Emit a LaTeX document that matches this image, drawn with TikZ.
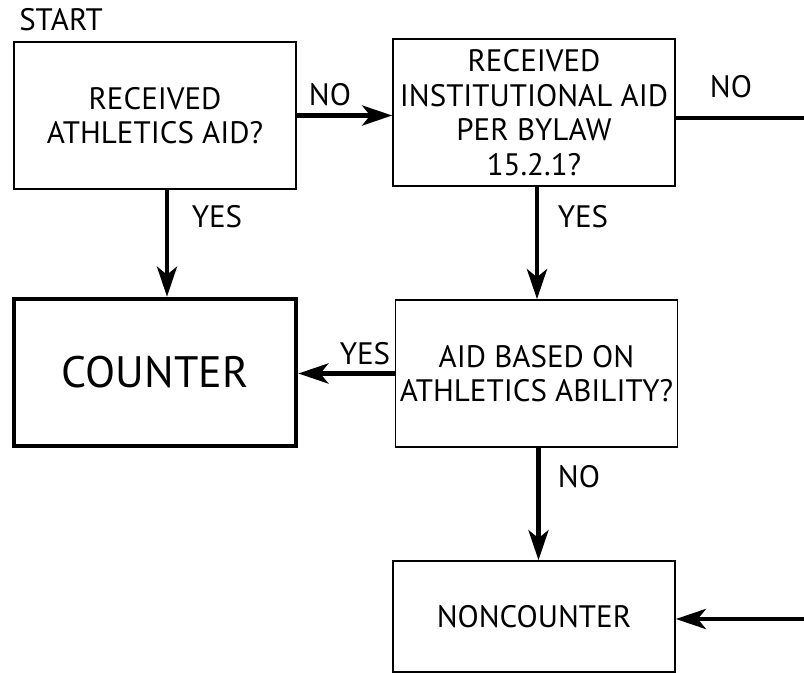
\documentclass[tikz,border=0pt]{standalone}
\usepackage{fontspec}
\setmainfont{PT Sans}
\usetikzlibrary{arrows.meta}

\tikzset{
  qbox/.style={draw, line width=0.8pt, rectangle, align=center, inner sep=0pt,
    minimum width=141pt, minimum height=73.5pt,
    font=\fontsize{15.5}{17.25}\selectfont},
  endbox/.style={qbox, line width=2.3pt, font=\fontsize{22}{24}\selectfont},
  flow/.style={line width=2.3pt, -{Stealth[length=15pt, width=10pt, inset=4pt]}},
  lbl/.style={inner sep=0pt, font=\fontsize{15.5}{17}\selectfont},
}

\begin{document}
\begin{tikzpicture}[x=0.5pt, y=-0.5pt]
  \useasboundingbox (0,0) rectangle (804,673);
  % start
  \node[lbl](start) at (61, 20){START};
  % first question
  \node[qbox](recv) at (155, 115.5){RECEIVED\\ATHLETICS AID?};
  % second question
  \node[qbox](inst) at (534, 112.5){RECEIVED\\INSTITUTIONAL AID\\PER BYLAW\\15.2.1?};
  % third question
  \node[qbox](basis) at (536.5, 373.5){AID BASED ON\\ATHLETICS ABILITY?};
  % outcomes
  \node[endbox](counter) at (155, 372.5){COUNTER};
  \node[qbox, minimum height=55.5pt](noncnt) at (534, 616.5){NONCOUNTER};

  % recv -> inst
  \draw [flow] (recv.east) -- (recv.east -| inst.west);
  \node[lbl](no1) at (330, 95){NO};
  % recv -> counter
  \draw [flow] ([xshift=6pt]recv.south) -- ([xshift=6pt]counter.north);
  \node[lbl](yes1) at (217, 217){YES};
  % inst -> basis
  \draw [flow] ([xshift=1.5pt]inst.south) -- ([xshift=1.5pt]inst.south |- basis.north);
  \node[lbl](yes2) at (583, 217){YES};
  % basis -> counter
  \draw [flow] (basis.west) -- (basis.west -| counter.east);
  \node[lbl](yes3) at (365, 354){YES};
  % basis -> noncounter
  \draw [flow] ([xshift=1pt]basis.south) -- ([xshift=1pt]basis.south |- noncnt.north);
  \node[lbl](no2) at (579, 477){NO};
  % inst -> noncounter, round the right side
  \coordinate (exitR) at (804, 118);
  \coordinate (entryR) at (804, 619);
  \draw [line width=2.3pt] (inst.east |- exitR) -- (exitR);
  \node[lbl](no3) at (731, 87){NO};
  \draw [flow] (entryR) -- (entryR -| noncnt.east);
\end{tikzpicture}
\end{document}
